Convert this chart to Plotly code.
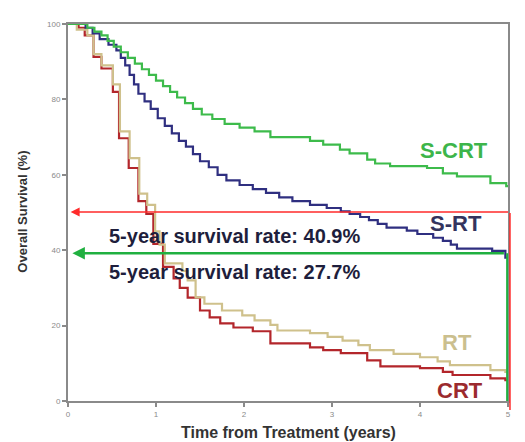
import plotly.graph_objects as go

# Kaplan-Meier style step data (time in years, overall survival %)
scrt_t = [0, 0.22, 0.3, 0.38, 0.45, 0.52, 0.6, 0.68, 0.76, 0.84, 0.92, 1.0, 1.08, 1.16, 1.24, 1.33,
          1.42, 1.52, 1.64, 1.78, 1.95, 2.12, 2.3, 2.75, 2.9, 3.09, 3.2, 3.4, 3.49, 3.66, 4.08, 4.26,
          4.42, 4.8, 4.98, 5.0]
scrt_s = [100, 99, 98, 97, 95.5, 94, 92.5, 91, 89.5, 88, 86.5, 85, 83.5, 82, 80.5, 79,
          77.5, 76, 74.8, 73.5, 72.5, 71.5, 70, 69, 68, 66.7, 65.7, 64, 63, 62.3, 61.8, 60.4,
          59.6, 57.8, 57, 57]

srt_t = [0, 0.2, 0.28, 0.36, 0.46, 0.55, 0.6, 0.65, 0.7, 0.75, 0.8, 0.87, 0.94, 1.02, 1.1, 1.18,
         1.26, 1.34, 1.42, 1.5, 1.6, 1.7, 1.8, 1.95, 2.1, 2.25, 2.4, 2.55, 2.75, 2.94, 3.1, 3.2,
         3.32, 3.42, 3.52, 3.62, 3.85, 3.97, 4.15, 4.26, 4.35, 4.42, 4.82, 4.97, 5.0]
srt_s = [100, 99, 97.5, 96, 94.5, 93, 91, 89, 86.5, 84, 81.5, 79.5, 77.5, 75, 73, 71,
         69, 67.5, 65.5, 63.6, 62, 60, 58.5, 57.3, 56.2, 55.2, 54, 53, 52, 51.2, 50.3, 49.6,
         48.8, 48, 47, 46, 45.2, 44.3, 43.3, 42.5, 41.5, 40.4, 39.8, 38, 38]

rt_t = [0, 0.1, 0.22, 0.29, 0.38, 0.51, 0.59, 0.7, 0.81, 0.9, 0.99, 1.04, 1.1, 1.3, 1.36, 1.45,
        1.55, 1.75, 1.98, 2.12, 2.3, 2.38, 2.75, 2.95, 3.12, 3.3, 3.43, 3.7, 4.0, 4.2, 4.34, 4.8,
        4.97, 5.0]
rt_s = [100, 98.5, 97, 92, 89, 84, 71.5, 64.4, 55, 52, 45, 41.5, 36.5, 34.5, 32, 27.5,
        25.8, 24, 22.7, 21.4, 20.2, 18.7, 18, 17, 16, 14.8, 13.5, 12.5, 11.6, 10.5, 9.5, 8.2,
        7.7, 7.7]

crt_t = [0, 0.12, 0.19, 0.29, 0.38, 0.51, 0.58, 0.69, 0.8, 0.89, 0.97, 1.08, 1.2, 1.27, 1.36, 1.5,
         1.61, 1.73, 1.88, 2.1, 2.3, 2.75, 2.9, 3.1, 3.4, 3.55, 4.0, 4.26, 4.37, 4.8, 4.97, 5.0]
crt_s = [100, 99, 97, 91.3, 88.2, 82, 69.7, 61.8, 53, 49.6, 41.7, 35.6, 32.5, 30, 27.4, 24,
         22.2, 20.6, 19.5, 18.5, 15.3, 14.2, 13.5, 12.7, 10.8, 9.2, 8.7, 7.7, 6.9, 6, 5.5, 5.5]

x_ticks = [0, 1, 2, 3, 4, 5]
y_ticks = [0, 20, 40, 60, 80, 100]

fig = go.Figure()
curves = [(crt_t, crt_s, '#b3262b'), (rt_t, rt_s, '#cfc18c'),
          (srt_t, srt_s, '#2f2f80'), (scrt_t, scrt_s, '#3dbb4b')]
for t, s, c in curves:
    fig.add_trace(go.Scatter(x=t, y=s, mode='lines', line=dict(color=c, width=2.2, shape='hv'),
                             showlegend=False, hoverinfo='skip'))

# curve labels
labels = [('S-CRT', 4.386, 66.5, '#3db54a'), ('S-RT', 4.41, 47.2, '#34345e'),
          ('RT', 4.42, 15.6, '#cbbf8e'), ('CRT', 4.45, 2.9, '#9b2a2e')]
for txt, x, y, c in labels:
    fig.add_annotation(x=x, y=y, text='<b>%s</b>' % txt, showarrow=False,
                       font=dict(family='Liberation Sans', size=22, color=c))

# 5-year survival arrows
fig.add_annotation(x=0.03, y=50.1, ax=439, ay=0, text='', showarrow=True,
                   arrowhead=2, arrowsize=1.2, arrowwidth=1.5, arrowcolor='#ff2b2b')
fig.add_annotation(x=0.05, y=39.2, ax=433, ay=0, text='', showarrow=True,
                   arrowhead=2, arrowsize=1, arrowwidth=2.5, arrowcolor='#20b040')
fig.add_shape(type='line', xref='paper', yref='paper', x0=1.0045, x1=1.0045, y0=0.4987, y1=-0.024,
              line=dict(color='#ff2b2b', width=1.5))
fig.add_shape(type='line', xref='paper', yref='paper', x0=0.998, x1=0.998, y0=0.392, y1=0,
              line=dict(color='#20b040', width=2))

fig.add_annotation(xref='paper', x=0.0886, y=43.8, xanchor='left', yanchor='middle', showarrow=False,
                   text='<b>5-year survival rate: 40.9%</b>',
                   font=dict(family='Liberation Sans', size=20, color='#1e1e3c'))
fig.add_annotation(xref='paper', x=0.0886, y=34.3, xanchor='left', yanchor='middle', showarrow=False,
                   text='<b>5-year survival rate: 27.7%</b>',
                   font=dict(family='Liberation Sans', size=20, color='#1e1e3c'))

# axis titles
fig.add_annotation(xref='paper', yref='paper', x=-0.1034, y=0.501, textangle=-90, showarrow=False,
                   xanchor='center', yanchor='middle',
                   text='<b>Overall Survival (%)</b>',
                   font=dict(family='Liberation Sans', size=13, color='#333333'))
fig.add_annotation(xref='paper', yref='paper', x=0.5, y=-0.0844, showarrow=False,
                   xanchor='center', yanchor='middle',
                   text='<b>Time from Treatment (years)</b>',
                   font=dict(family='Liberation Sans', size=16, color='#333333'))

axis_style = dict(showgrid=False, zeroline=False, showline=True, mirror=True, linecolor='#8a8a8a',
                  linewidth=2, ticks='outside', ticklen=4, tickcolor='#8a8a8a', tickwidth=1.5,
                  tickfont=dict(family='Liberation Sans', size=8, color='#8a8a8a'))
fig.update_xaxes(range=[0, 5], tickvals=x_ticks, **axis_style)
fig.update_yaxes(range=[0, 100], tickvals=y_ticks, **axis_style)

# page body adds an 8px offset, so the figure is sized to the remaining window
fig.update_layout(width=517, height=434, margin=dict(l=60, r=17, t=14, b=41),
                  paper_bgcolor='white', plot_bgcolor='white', showlegend=False)

fig.write_html("out.html")
